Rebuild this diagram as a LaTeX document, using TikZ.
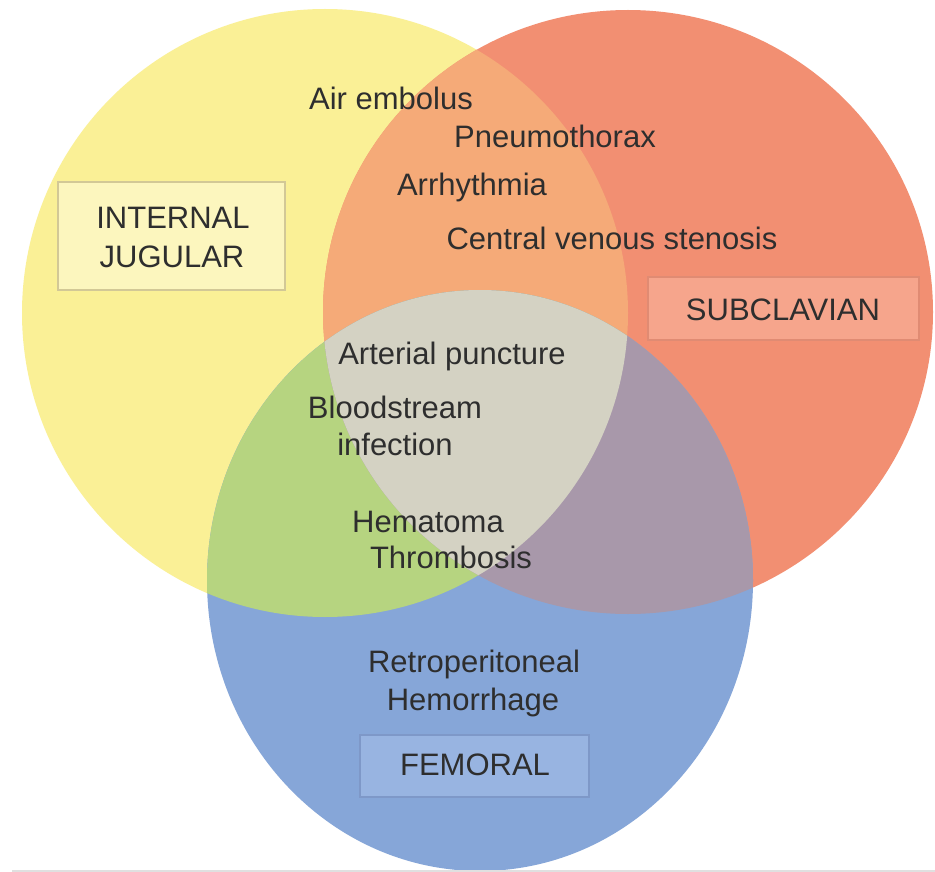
\documentclass[tikz,border=0pt]{standalone}
\usepackage{fontspec}
\setmainfont{Liberation Sans}
\definecolor{cY}{HTML}{FAF096}
\definecolor{cR}{HTML}{F28F72}
\definecolor{cB}{HTML}{86A6D8}
\definecolor{cO}{HTML}{F5AA78}
\definecolor{cG}{HTML}{B6D480}
\definecolor{cP}{HTML}{A898AA}
\definecolor{cGr}{HTML}{D4D2C3}
\definecolor{txt}{HTML}{2E2E2E}
\definecolor{ijF}{HTML}{FCF6BE}
\definecolor{ijD}{HTML}{D2C896}
\definecolor{scF}{HTML}{F6A58C}
\definecolor{scD}{HTML}{E08B73}
\definecolor{feF}{HTML}{98B4E1}
\definecolor{feD}{HTML}{7E98C8}
\tikzset{
  lbl/.style={anchor=base, inner sep=0pt, text=txt, font=\fontsize{31}{37}\selectfont},
  boxnode/.style={draw, line width=1.2pt, inner sep=0pt, rectangle}
}
\def\ellY{(325,313) ellipse [x radius=303, y radius=304]}
\def\ellR{(628,312) ellipse [x radius=305, y radius=302]}
\def\ellB{(480,580.5) ellipse [x radius=273, y radius=290.5]}
\begin{document}
\begin{tikzpicture}[x=1pt,y=-1pt]
\useasboundingbox (0,0) rectangle (935,872);
\fill[white] (0,0) rectangle (935,872);
% base sets
\fill[cY] \ellY;
\fill[cR] \ellR;
\fill[cB] \ellB;
% pairwise intersections
\begin{scope}\clip \ellY; \fill[cO] \ellR; \end{scope}
\begin{scope}\clip \ellY; \fill[cG] \ellB; \end{scope}
\begin{scope}\clip \ellR; \fill[cP] \ellB; \end{scope}
% triple intersection
\begin{scope}\clip \ellY; \clip \ellR; \fill[cGr] \ellB; \end{scope}
% bottom rule
\draw[black!12, line width=1.5pt] (12,871) -- (935,871);
% boxes
\node[boxnode, draw=ijD, fill=ijF, minimum width=227pt, minimum height=108pt] (ijbox) at (171.5,236) {};
\node[boxnode, draw=scD, fill=scF, minimum width=271pt, minimum height=63pt] (scbox) at (783.5,308.5) {};
\node[boxnode, draw=feD, fill=feF, minimum width=229pt, minimum height=62pt] (febox) at (474.5,766) {};
% box labels
\node[lbl] (ij1) at (173,229) {INTERNAL};
\node[lbl] (ij2) at (172,267) {JUGULAR};
\node[lbl] (sc) at (783,320) {SUBCLAVIAN};
\node[lbl] (fe) at (475,775) {FEMORAL};
% complications
\node[lbl] (air) at (391,110) {Air embolus};
\node[lbl] (pneu) at (555,148) {Pneumothorax};
\node[lbl] (arr) at (472,196) {Arrhythmia};
\node[lbl] (cvs) at (612,249) {Central venous stenosis};
\node[lbl] (ap) at (452,364) {Arterial puncture};
\node[lbl] (bs1) at (395,418) {Bloodstream};
\node[lbl] (bs2) at (395,455) {infection};
\node[lbl] (hem) at (428,532) {Hematoma};
\node[lbl] (thr) at (451,568) {Thrombosis};
\node[lbl] (rp1) at (474,672) {Retroperitoneal};
\node[lbl] (rp2) at (473,710) {Hemorrhage};
\end{tikzpicture}
\end{document}
